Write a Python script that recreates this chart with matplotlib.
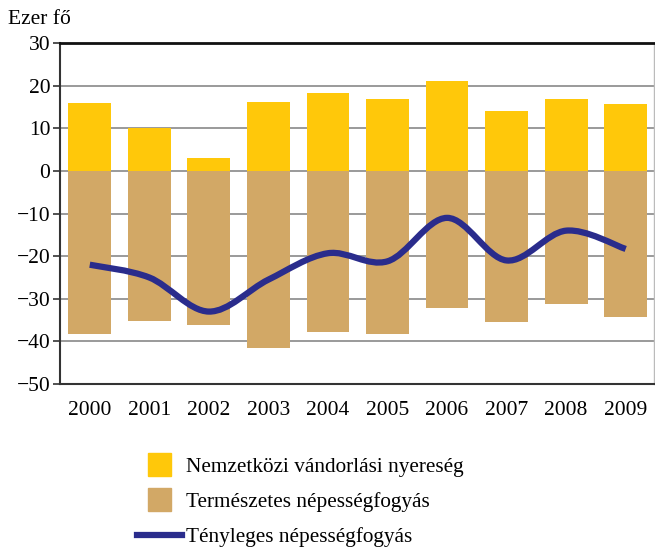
import numpy as np
import matplotlib.pyplot as plt
from matplotlib.path import Path
from matplotlib.patches import PathPatch, Patch, Rectangle
from matplotlib.lines import Line2D
from matplotlib.legend_handler import HandlerPatch

plt.rcParams['font.family'] = ['Liberation Serif', 'DejaVu Serif']

# Adatok (ezer fő)
years = ['2000', '2001', '2002', '2003', '2004', '2005', '2006', '2007', '2008', '2009']
migration = [16, 10, 3, 16.3, 18.3, 17, 21.1, 14, 17, 15.8]
natural = [-38.2, -35.2, -36.2, -41.5, -37.8, -38.2, -32.2, -35.4, -31.2, -34.3]
actual = [-22, -25, -33, -25.5, -19.3, -21.2, -11, -21, -14, -18.3]

c_yellow = '#FFC80A'
c_brown = '#D2A866'
c_line = '#2A2C8C'


# Excel-szerű simított vonal Bézier-görbékkel
def smooth_path(xs, ys):
    xs = np.asarray(xs, float)
    ys = np.asarray(ys, float)
    verts = [(xs[0], ys[0])]
    codes = [Path.MOVETO]
    n = len(xs)
    for i in range(n - 1):
        x0, y0 = (xs[i - 1], ys[i - 1]) if i > 0 else (xs[i], ys[i])
        x3, y3 = (xs[i + 2], ys[i + 2]) if i + 2 < n else (xs[i + 1], ys[i + 1])
        c1 = (xs[i] + (xs[i + 1] - x0) / 6, ys[i] + (ys[i + 1] - y0) / 6)
        c2 = (xs[i + 1] - (x3 - xs[i]) / 6, ys[i + 1] - (y3 - ys[i]) / 6)
        verts += [c1, c2, (xs[i + 1], ys[i + 1])]
        codes += [Path.CURVE4] * 3
    return Path(verts, codes)


# négyzet alakú jelmagyarázat-jel a vonal közepén
def square_patch(legend, orig_handle, xdescent, ydescent, width, height, fontsize):
    s = height * 1.55
    return Rectangle((width / 2 - s / 2 - xdescent, -ydescent + height / 2 - s / 2), s, s)


fig = plt.figure(figsize=(6.55, 5.47), dpi=100)
ax = fig.add_axes([0.0916, 0.298, 0.9064, 0.623])

x = np.arange(len(years))
ax.bar(x, migration, width=0.72, color=c_yellow, zorder=2)
ax.bar(x, natural, width=0.72, color=c_brown, zorder=2)
ax.add_patch(PathPatch(smooth_path(x, actual), fill=False, edgecolor=c_line,
                       lw=4.5, capstyle='butt', zorder=3))

ax.set_xlim(-0.5, 9.47)
ax.set_ylim(-50, 30)
ax.set_yticks(np.arange(-50, 31, 10))
ax.set_xticks(x)
ax.set_xticklabels(years)
ax.yaxis.grid(True, color='#9a9a9a', lw=1.4, zorder=1)
ax.set_axisbelow(True)

ax.tick_params(axis='y', labelsize=15.5, length=5, width=1.2, color='#333333', pad=2)
ax.tick_params(axis='x', labelsize=15.5, length=0, pad=12)
ax.spines['left'].set_color('#333333')
ax.spines['left'].set_linewidth(1.5)
ax.spines['bottom'].set_color('#333333')
ax.spines['bottom'].set_linewidth(1.5)
ax.spines['top'].set_color('#111111')
ax.spines['top'].set_linewidth(2)
ax.spines['right'].set_color('#bbbbbb')
ax.spines['right'].set_linewidth(1)

fig.text(0.012, 0.964, 'Ezer fő', fontsize=15.5, ha='left', va='center')

handles = [Patch(color=c_yellow), Patch(color=c_brown),
           Line2D([], [], color=c_line, lw=4.5)]
labels = ['Nemzetközi vándorlási nyereség', 'Természetes népességfogyás',
          'Tényleges népességfogyás']
fig.legend(handles, labels, loc='upper left', bbox_to_anchor=(0.209, 0.165),
           frameon=False, fontsize=15.3, handlelength=2.1, handletextpad=0.2,
           labelspacing=0.72, borderaxespad=0, borderpad=0,
           handler_map={Patch: HandlerPatch(patch_func=square_patch)})

fig.savefig('out.png', dpi=100)
